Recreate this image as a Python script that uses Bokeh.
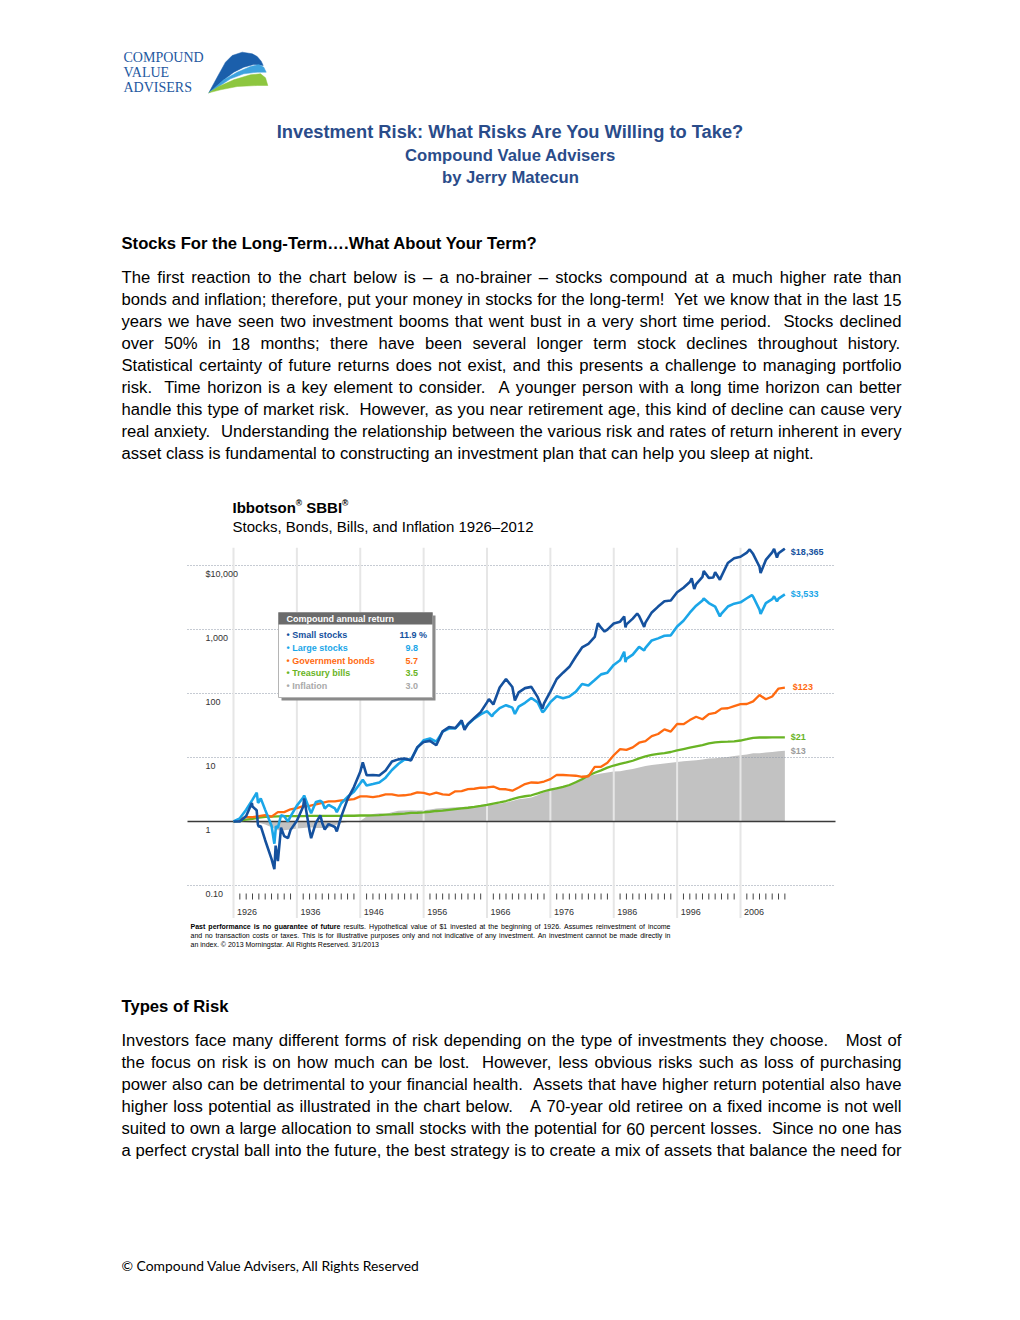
import math
from bokeh.plotting import figure
from bokeh.layouts import column
from bokeh.models import Range1d
from bokeh.embed import file_html
from bokeh.resources import INLINE
from bokeh.core.properties import value

# ---------------------------------------------------------------- data
years = list(range(1926, 2013))  # value at the end of each year

small_stocks = [
    1.00, 1.22, 1.71, 0.83, 0.51, 0.26, 0.24, 0.59, 0.74, 1.03,
    1.71, 0.72, 0.95, 0.95, 0.91, 0.82, 1.19, 2.24, 3.45, 5.98,
    5.29, 5.33, 5.22, 6.25, 8.68, 9.35, 9.64, 9.01, 14.47, 17.43,
    18.17, 15.53, 25.60, 29.80, 28.82, 38.07, 33.54, 41.45, 51.19, 72.57,
    67.48, 123.87, 168.43, 126.24, 104.24, 121.44, 126.81, 87.63, 70.14, 107.19,
    168.70, 211.50, 261.13, 374.63, 524.03, 596.76, 763.91, 1066.95, 995.79, 1241.35,
    1326.38, 1203.03, 1478.16, 1628.74, 1277.58, 1847.96, 2279.46, 2757.69, 2843.45, 3823.30,
    4496.75, 5521.20, 5117.60, 6641.03, 6402.62, 7860.50, 6816.62, 10954.30, 12968.10, 13705.90,
    15922.00, 15090.70, 9549.40, 12232.70, 16056.70, 15533.20, 18365.00]

large_stocks = [
    1.12, 1.53, 2.20, 2.02, 1.52, 0.86, 0.79, 1.21, 1.20, 1.77,
    2.37, 1.54, 2.02, 2.01, 1.82, 1.60, 1.93, 2.43, 2.91, 3.97,
    3.65, 3.85, 4.07, 4.84, 6.37, 7.90, 9.35, 9.26, 14.13, 18.59,
    19.81, 17.67, 25.33, 28.36, 28.49, 36.15, 32.99, 40.51, 47.18, 53.05,
    47.71, 59.16, 65.70, 60.11, 62.52, 71.46, 85.02, 72.56, 53.36, 73.21,
    90.66, 84.16, 89.68, 106.22, 140.65, 133.75, 162.43, 199.01, 211.46, 279.45,
    330.64, 347.97, 406.04, 534.76, 517.96, 675.44, 726.86, 800.08, 810.51, 1113.92,
    1370.95, 1828.33, 2350.89, 2845.63, 2586.52, 2279.13, 1775.34, 2284.79, 2533.43, 2657.84,
    3077.23, 3246.39, 2045.40, 2586.52, 2976.08, 3038.77, 3532.65]

gov_bonds = [
    1.08, 1.17, 1.17, 1.21, 1.26, 1.19, 1.40, 1.40, 1.55, 1.62,
    1.74, 1.75, 1.85, 1.96, 2.07, 2.06, 2.13, 2.18, 2.24, 2.47,
    2.47, 2.40, 2.49, 2.65, 2.65, 2.54, 2.57, 2.66, 2.85, 2.80,
    2.64, 2.83, 2.66, 2.60, 2.96, 2.99, 3.20, 3.25, 3.37, 3.40,
    3.52, 3.20, 3.19, 3.03, 3.40, 3.85, 4.07, 4.03, 4.21, 4.59,
    5.36, 5.33, 5.26, 5.19, 5.00, 5.09, 7.15, 7.17, 8.28, 10.85,
    13.50, 13.14, 14.41, 17.02, 18.07, 21.57, 23.30, 27.58, 25.42, 33.47,
    33.13, 38.40, 43.36, 39.58, 47.74, 49.71, 58.13, 58.85, 63.67, 68.46,
    68.59, 75.42, 94.66, 81.18, 89.89, 119.58, 123.38]

treasury_bills = [
    1.03, 1.07, 1.10, 1.15, 1.18, 1.19, 1.20, 1.21, 1.21, 1.21,
    1.21, 1.22, 1.22, 1.22, 1.22, 1.22, 1.22, 1.23, 1.23, 1.24,
    1.24, 1.25, 1.26, 1.28, 1.29, 1.31, 1.33, 1.36, 1.37, 1.39,
    1.42, 1.46, 1.48, 1.52, 1.56, 1.60, 1.64, 1.69, 1.75, 1.82,
    1.91, 1.99, 2.09, 2.23, 2.38, 2.48, 2.57, 2.75, 2.97, 3.14,
    3.30, 3.47, 3.72, 4.10, 4.56, 5.23, 5.78, 6.30, 6.94, 7.49,
    7.95, 8.37, 8.90, 9.68, 10.43, 11.01, 11.39, 11.73, 12.19, 12.88,
    13.55, 14.25, 14.95, 15.64, 16.56, 17.21, 17.49, 17.67, 17.89, 18.43,
    19.30, 20.24, 20.53, 20.55, 20.57, 20.58, 20.59]

inflation = [
    0.99, 0.97, 0.96, 0.96, 0.90, 0.81, 0.73, 0.73, 0.75, 0.78,
    0.79, 0.81, 0.79, 0.79, 0.80, 0.87, 0.95, 0.98, 1.00, 1.02,
    1.20, 1.31, 1.34, 1.31, 1.39, 1.47, 1.48, 1.50, 1.49, 1.50,
    1.54, 1.59, 1.62, 1.64, 1.67, 1.68, 1.70, 1.73, 1.75, 1.78,
    1.84, 1.89, 1.98, 2.10, 2.22, 2.29, 2.37, 2.58, 2.88, 3.07,
    3.22, 3.44, 3.75, 4.24, 4.76, 5.19, 5.39, 5.60, 5.82, 6.02,
    6.09, 6.36, 6.64, 6.96, 7.39, 7.62, 7.84, 8.05, 8.27, 8.48,
    8.76, 8.91, 9.05, 9.29, 9.61, 9.76, 10.00, 10.19, 10.53, 10.89,
    11.17, 11.63, 11.64, 11.96, 12.14, 12.51, 12.72]

# intra-year peaks and troughs (time in fractional years, value)
small_extra_t = [1928.9, 1929.65, 1929.85, 1930.3, 1932.45, 1932.65, 1933.5, 1934.6, 1937.15,
                 1938.25, 1939.7, 1940.4, 1942.3, 1946.4, 1962.45, 1966.3, 1970.4, 1974.75,
                 1983.5, 1984.55, 1987.65, 1987.85, 1989.7, 1990.8, 1998.3, 1998.7, 2000.2,
                 2001.7, 2002.75, 2007.45, 2009.17, 2011.3, 2011.75]
small_extra_v = [1.95, 1.5, 0.9, 0.85, 0.18, 0.42, 0.80, 0.55, 2.3,
                 0.55, 1.25, 0.75, 0.70, 8.4, 27.0, 82.0, 78.0, 58.0,
                 1250.0, 930.0, 1600.0, 1080.0, 1780.0, 1100.0, 6300.0, 4300.0, 8200.0,
                 6500.0, 6000.0, 17800.0, 7600.0, 18200.0, 13300.0]
large_extra_t = [1929.67, 1929.87, 1930.3, 1932.45, 1932.7, 1933.5, 1934.6, 1937.15, 1938.25,
                 1939.7, 1940.4, 1942.3, 1946.4, 1962.45, 1966.8, 1970.4, 1974.75, 1987.65,
                 1987.85, 1990.8, 2000.2, 2002.75, 2007.8, 2009.17, 2011.3, 2011.75]
large_extra_v = [2.83, 1.95, 2.3, 0.45, 0.85, 1.25, 1.0, 2.55, 1.35,
                 2.1, 1.6, 1.4, 4.5, 28.5, 44.0, 48.0, 51.0, 450.0,
                 310.0, 470.0, 3050.0, 1600.0, 3450.0, 1750.0, 3300.0, 2750.0]

series_names = ["Small stocks", "Large stocks", "Government bonds", "Treasury bills", "Inflation"]
annual_returns = ["11.9 %", "9.8", "5.7", "3.5", "3.0"]
decades = list(range(1926, 2007, 10))
decade_labels = [str(d) for d in decades]
year_ticks = [y for y in range(1927, 2014) if (y - 1926) % 10]
value_levels = [0.1, 1, 10, 100, 1000, 10000]
value_labels = ["0.10", "1", "10", "100", "1,000", "$10,000"]

# ---------------------------------------------------------------- styles
C_SMALL, C_LARGE, C_BOND, C_BILL, C_INFL = "#15519e", "#1ba6e8", "#ff6a10", "#69b424", "#c2c2c2"
C_INFL_TXT = "#9c9c9c"
C_TITLE = "#2A4C8A"
SANS, SERIF = "Liberation Sans", "Liberation Serif"

AW = {' ': 278, '!': 278, '"': 355, '$': 556, '%': 889, '&': 667, "'": 191, '(': 333, ')': 333,
      ',': 278, '-': 333, '.': 278, '/': 278, ':': 278, ';': 278, '?': 556, '–': 556, '…': 1000,
      '©': 737, '®': 737, '•': 350,
      'A': 667, 'B': 667, 'C': 722, 'D': 722, 'E': 667, 'F': 611, 'G': 778, 'H': 722, 'I': 278,
      'J': 500, 'K': 667, 'L': 556, 'M': 833, 'N': 722, 'O': 778, 'P': 667, 'Q': 778, 'R': 722,
      'S': 667, 'T': 611, 'U': 722, 'V': 667, 'W': 944, 'X': 667, 'Y': 667, 'Z': 611,
      'a': 556, 'b': 556, 'c': 500, 'd': 556, 'e': 556, 'f': 278, 'g': 556, 'h': 556, 'i': 222,
      'j': 222, 'k': 500, 'l': 222, 'm': 833, 'n': 556, 'o': 556, 'p': 556, 'q': 556, 'r': 333,
      's': 500, 't': 278, 'u': 556, 'v': 500, 'w': 722, 'x': 500, 'y': 500, 'z': 500}
AWB = dict(AW)
AWB.update({'!': 333, ':': 333, ';': 333, '?': 611, '&': 722,
            'A': 722, 'B': 722, 'J': 556, 'K': 722, 'L': 611,
            'b': 611, 'c': 556, 'd': 611, 'f': 333, 'g': 611, 'h': 611, 'i': 278, 'j': 278,
            'k': 556, 'l': 278, 'm': 889, 'n': 611, 'o': 611, 'p': 611, 'q': 611, 'r': 389,
            's': 556, 't': 333, 'u': 611, 'v': 556, 'w': 778, 'x': 556, 'y': 556})


def tw(s, size, bold=False):
    tbl = AWB if bold else AW
    return sum(tbl.get(ch, 556) for ch in s) / 1000.0 * size


def put(f, xs, ys, texts, size, color="#000000", font=SANS, bold=False, align="left"):
    f.text(x=list(xs), y=list(ys), text=list(texts), text_font=value(font),
           text_font_size=value(f"{size}px"), text_font_style="bold" if bold else "normal",
           text_color=color, text_align=align, text_baseline="middle")


def justify(f, tokens, x0, x1, y, size, color="#000000", last=False):
    widths = [tw(w, size, b) for w, b in tokens]
    nsp = len(tokens) - 1
    if last or nsp == 0:
        gap = tw(' ', size)
    else:
        gap = (x1 - x0 - sum(widths)) / nsp
    groups = {False: ([], []), True: ([], [])}
    x = x0
    for (w, b), wd in zip(tokens, widths):
        if w:
            groups[b][0].append(x)
            groups[b][1].append(w)
        x += wd + gap
    for b, (xs, ws) in groups.items():
        if ws:
            put(f, xs, [y] * len(ws), ws, size, color, SANS, b)


def paragraph(f, lines, x0, x1, y0, dy, size, yoff, last_justified=False):
    for i, line in enumerate(lines):
        toks = [(w, False) for w in line.split(' ')]
        last = (i == len(lines) - 1) and not last_justified
        justify(f, toks, x0, x1, y0 + i * dy - yoff, size, last=last)


W = 1016
OFF_TOP, OFF_CHART, OFF_BOT = 0, 547, 918
H_TOP, H_CHART, H_BOT = 547, 371, 398


def doc_fig(h):
    f = figure(width=W, height=h, x_range=Range1d(0, W), y_range=Range1d(h, 0),
               output_backend="svg", toolbar_location=None,
               x_axis_location=None, y_axis_location=None, min_border=0)
    f.xgrid.grid_line_color = None
    f.ygrid.grid_line_color = None
    f.outline_line_color = None
    f.background_fill_color = "white"
    f.border_fill_color = "white"
    return f


BODY = 16.65     # Arial-Narrow-12pt width equivalent
TITLE = 18.3

# ---------------------------------------------------------------- top part of page
top = doc_fig(H_TOP)

dark = [(208.3, 92.3), (216.7, 76.7), (225, 61.7), (231.7, 55), (241.7, 51.7), (251.7, 53.3),
        (256.7, 56), (260.7, 60.7), (262.7, 65), (253.3, 64), (243.3, 66.7), (233.3, 71.7),
        (223.3, 79.3), (215, 87.3)]
light = [(208.3, 92.3), (223.3, 79.3), (236.7, 71.7), (250, 66), (258.3, 64), (263.3, 66.7),
         (265.7, 71.7), (256.7, 71.7), (243.3, 73.3), (230, 78.3), (218.3, 86)]
green = [(208.3, 92.3), (218.3, 86), (233.3, 79.3), (250, 74.3), (260, 73.3), (265, 77.3),
         (267.3, 85), (256.7, 85), (236.7, 86), (220, 89.3)]
for pts, col in ((dark, "#1b5fab"), (light, "#3ea2de"), (green, "#8dc63f")):
    top.patch([p[0] for p in pts], [p[1] - OFF_TOP for p in pts],
              fill_color=col, line_color=col, line_width=0.5)

put(top, [123] * 3, [57, 72, 87], ["COMPOUND", "VALUE", "ADVISERS"], 14, "#23589f", SERIF)

put(top, [510], [131], ["Investment Risk: What Risks Are You Willing to Take?"],
    TITLE, C_TITLE, SANS, True, "center")
put(top, [510, 510], [155, 177], ["Compound Value Advisers", "by Jerry Matecun"],
    BODY, C_TITLE, SANS, True, "center")

put(top, [121], [243], ["Stocks For the Long-Term….What About Your Term?"], BODY, "#000000", SANS, True)

para1 = [
    "The first reaction to the chart below is – a no-brainer – stocks compound at a much higher rate than",
    "bonds and inflation; therefore, put your money in stocks for the long-term!  Yet we know that in the last 15",
    "years we have seen two investment booms that went bust in a very short time period.  Stocks declined",
    "over 50% in 18 months; there have been several longer term stock declines throughout history.",
    "Statistical certainty of future returns does not exist, and this presents a challenge to managing portfolio",
    "risk.  Time horizon is a key element to consider.  A younger person with a long time horizon can better",
    "handle this type of market risk.  However, as you near retirement age, this kind of decline can cause very",
    "real anxiety.  Understanding the relationship between the various risk and rates of return inherent in every",
    "asset class is fundamental to constructing an investment plan that can help you sleep at night.",
]
paragraph(top, para1, 121, 901, 277, 22, BODY, OFF_TOP)

# chart titles
ib_x = 232
put(top, [ib_x], [507], ["Ibbotson"], 15, "#000000", SANS, True)
r1 = ib_x + tw("Ibbotson", 15, True)
put(top, [r1], [502], ["®"], 8.5, "#000000", SANS, True)
s_x = r1 + tw("®", 8.5, True) + tw(" ", 15, True)
put(top, [s_x], [507], ["SBBI"], 15, "#000000", SANS, True)
r2 = s_x + tw("SBBI", 15, True)
put(top, [r2], [502], ["®"], 8.5, "#000000", SANS, True)
put(top, [232], [526], ["Stocks, Bonds, Bills, and Inflation 1926–2012"], 15, "#000000", SANS)

# ---------------------------------------------------------------- chart
PX_YR, PX_DEC = 6.3375, 64.0
X_AT_1926, Y_AT_1 = 233.0, 821.0
PLOT_L, PLOT_R, PLOT_T, PLOT_B = 187, 835, 547, 918


def cx(px):
    return 1926 + (px - X_AT_1926) / PX_YR


def cy(py):
    return 10 ** ((Y_AT_1 - py) / PX_DEC)


c = figure(width=W, height=H_CHART, x_range=Range1d(cx(0), cx(W)),
           y_range=Range1d(cy(PLOT_B), cy(PLOT_T)), y_axis_type="log",
           x_axis_location=None, y_axis_location=None, min_border=0,
           output_backend="svg", toolbar_location=None)
c.xgrid.grid_line_color = None
c.ygrid.grid_line_color = None
c.outline_line_color = None
c.background_fill_color = "white"
c.border_fill_color = "white"

xl, xr = cx(PLOT_L), cx(PLOT_R)
y0r, y1r = c.y_range.start, c.y_range.end


def merge(base, et=(), ev=()):
    pts = [(1926.0, 1.0)] + [(y + 1.0, v) for y, v in zip(years, base)] + list(zip(et, ev))
    pts.sort()
    return [p[0] for p in pts], [p[1] for p in pts]


t_inf, v_inf = merge(inflation)
c.varea(x=t_inf, y1=[1.0] * len(t_inf), y2=v_inf, fill_color=C_INFL)

dotted = [v for v in value_levels if v != 1]
c.segment(x0=[xl] * len(dotted), x1=[xr] * len(dotted), y0=dotted, y1=dotted,
          line_color="#8c97a6", line_width=1, line_dash="1 2")
c.segment(x0=decades, x1=decades, y0=[y0r] * len(decades), y1=[y1r] * len(decades),
          line_color="#e6e6e6", line_width=2)
c.segment(x0=[xl], x1=[xr], y0=[1.0], y1=[1.0], line_color="#3a3a3a", line_width=1.5)

t_b, v_b = merge(treasury_bills)
c.line(t_b, v_b, line_color=C_BILL, line_width=2.3)
t_g, v_g = merge(gov_bonds)
c.line(t_g, v_g, line_color=C_BOND, line_width=2.3)
t_l, v_l = merge(large_stocks, large_extra_t, large_extra_v)
c.line(t_l, v_l, line_color=C_LARGE, line_width=2.6)
t_s, v_s = merge(small_stocks, small_extra_t, small_extra_v)
c.line(t_s, v_s, line_color=C_SMALL, line_width=2.6)

# end values
end_vals = [small_stocks[-1], large_stocks[-1], gov_bonds[-1], treasury_bills[-1], inflation[-1]]
end_cols = [C_SMALL, C_LARGE, C_BOND, C_BILL, C_INFL_TXT]
end_dx = [6, 6, 8, 6, 6]
end_dy = [3, 0, -1, 0, 0]
for v, col, dx, dy in zip(end_vals, end_cols, end_dx, end_dy):
    c.text(x=[years[-1] + 1.0], y=[v], text=[f"${v:,.0f}"], x_offset=dx, y_offset=dy,
           text_font=value(SANS), text_font_size=value("9px"), text_font_style="bold",
           text_color=col, text_align="left", text_baseline="middle")

# legend box
c.quad(left=[cx(281)], right=[cx(435)], top=[cy(615)], bottom=[cy(700)],
       fill_color="#8a8a8a", line_color=None)
c.quad(left=[cx(278)], right=[cx(432)], top=[cy(612)], bottom=[cy(697)],
       fill_color="white", line_color="#b5b5b5", line_width=1)
c.quad(left=[cx(278)], right=[cx(432)], top=[cy(612)], bottom=[cy(624)],
       fill_color="#6b6b6b", line_color=None)
c.text(x=[cx(286)], y=[cy(618)], text=["Compound annual return"],
       text_font=value(SANS), text_font_size=value("9px"), text_font_style="bold",
       text_color="white", text_baseline="middle")
row_y = [634, 647, 660, 672, 685]
leg_cols = [C_SMALL, C_LARGE, C_BOND, C_BILL, "#a9a9a9"]
c.text(x=[cx(286)] * 5, y=[cy(py) for py in row_y], text=["• " + n for n in series_names],
       text_font=value(SANS), text_font_size=value("9px"), text_font_style="bold",
       text_color=leg_cols, text_baseline="middle")
c.text(x=[cx(399)] + [cx(405)] * 4, y=[cy(py) for py in row_y], text=annual_returns,
       text_font=value(SANS), text_font_size=value("9px"), text_font_style="bold",
       text_color=leg_cols, text_baseline="middle")

# value axis labels (inside the plot, under each gridline)
c.text(x=[cx(205)] * len(value_levels), y=[v * 10 ** (-8.5 / PX_DEC) for v in value_levels],
       text=value_labels, text_font=value(SANS), text_font_size=value("9px"),
       text_color="#333333", text_baseline="middle")

# year ticks and labels
c.segment(x0=year_ticks, x1=year_ticks, y0=[cy(893)] * len(year_ticks), y1=[cy(899)] * len(year_ticks),
          line_color="#444444", line_width=1)
c.text(x=[d + 3.5 / PX_YR for d in decades], y=[cy(911)] * len(decades), text=decade_labels,
       text_font=value(SANS), text_font_size=value("9px"), text_color="#333333",
       text_baseline="middle")

# ---------------------------------------------------------------- bottom part of page
bot = doc_fig(H_BOT)
B = lambda py: py - OFF_BOT

fn_size = 7
fn1 = "Past performance is no guarantee of future results. Hypothetical value of $1 invested at the beginning of 1926. Assumes reinvestment of income"
fn2 = "and no transaction costs or taxes. This is for illustrative purposes only and not indicative of any investment. An investment cannot be made directly in"
fn3 = "an index. © 2013 Morningstar. All Rights Reserved. 3/1/2013"
toks1 = [(w, i < 7) for i, w in enumerate(fn1.split(' '))]
justify(bot, toks1, 190, 670, B(926), fn_size)
justify(bot, [(w, False) for w in fn2.split(' ')], 190, 670, B(935), fn_size)
justify(bot, [(w, False) for w in fn3.split(' ')], 190, 670, B(944), fn_size, last=True)

put(bot, [121], [B(1006)], ["Types of Risk"], BODY, "#000000", SANS, True)
para2 = [
    "Investors face many different forms of risk depending on the type of investments they choose.   Most of",
    "the focus on risk is on how much can be lost.  However, less obvious risks such as loss of purchasing",
    "power also can be detrimental to your financial health.  Assets that have higher return potential also have",
    "higher loss potential as illustrated in the chart below.   A 70-year old retiree on a fixed income is not well",
    "suited to own a large allocation to small stocks with the potential for 60 percent losses.  Since no one has",
    "a perfect crystal ball into the future, the best strategy is to create a mix of assets that balance the need for",
]
paragraph(bot, para2, 121, 901, 1040, 22, BODY, OFF_BOT, last_justified=True)

put(bot, [121], [B(1265)], ["© Compound Value Advisers, All Rights Reserved"], 13.9, "#000000", "Lato")

page = column(top, c, bot, spacing=0)
open("out.html", "w").write(file_html(page, INLINE))
